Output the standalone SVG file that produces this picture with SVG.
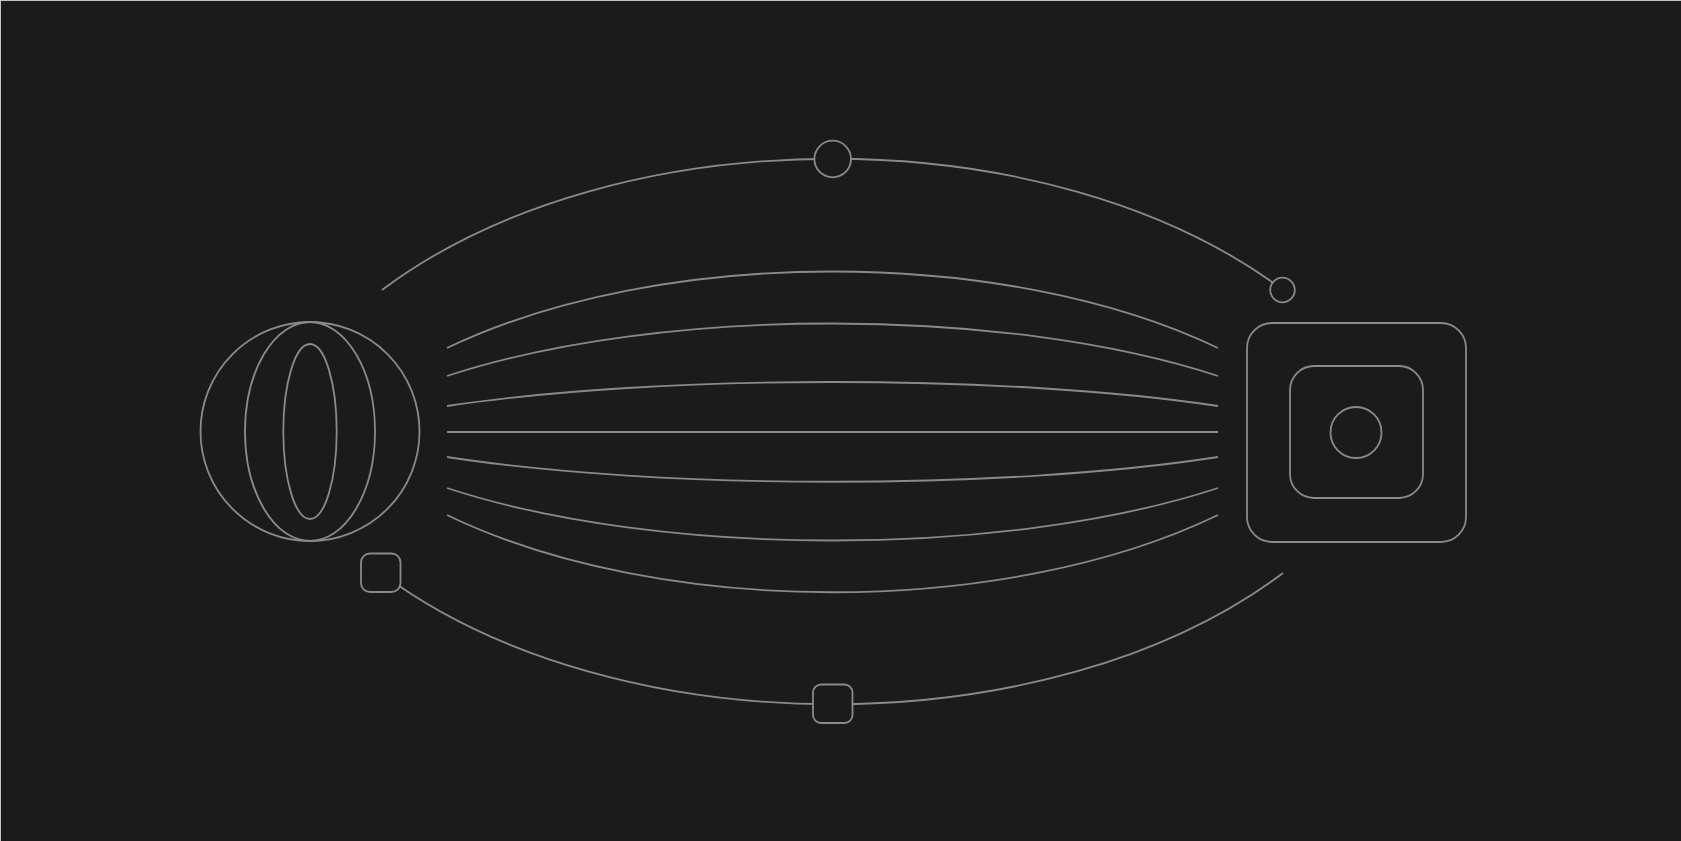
<svg xmlns="http://www.w3.org/2000/svg" width="1681" height="841" viewBox="0 0 1681 841">
<style>
.s{fill:none;stroke:#8a8a8a;stroke-width:1.8}
.n{fill:#1b1b1b;stroke:#8a8a8a;stroke-width:1.8}
</style>
<rect x="0" y="0" width="1681" height="841" fill="#c4c4c4"/>
<rect x="1" y="1" width="1680" height="840" fill="#1b1b1b"/>
<g id="connectors">
<path class="s" d="M382,290 C615,115 1050,115 1283,290"/>
<path class="s" d="M381,573 C615,748 1050,748 1283,573"/>
<path class="s" d="M447,348 C660,246 1005,246 1218,348"/>
<path class="s" d="M447,376 C660,306 1005,306 1218,376"/>
<path class="s" d="M447,406 C660,374 1005,374 1218,406"/>
<path class="s" d="M447,432 L1218,432"/>
<path class="s" d="M447,457 C660,490 1005,490 1218,457"/>
<path class="s" d="M447,488 C660,558 1005,558 1218,488"/>
<path class="s" d="M447,515 C660,618 1005,618 1218,515"/>
</g>
<g id="sphere">
<circle class="s" cx="310" cy="431.5" r="109.5"/>
<ellipse class="s" cx="310" cy="431.5" rx="65" ry="109.5"/>
<ellipse class="s" cx="310" cy="431.5" rx="26.7" ry="87.5"/>
</g>
<g id="box">
<rect class="s" x="1247" y="323" width="219" height="219" rx="25"/>
<rect class="s" x="1290" y="366" width="133" height="132" rx="24"/>
<circle class="s" cx="1356" cy="432.5" r="25.5"/>
</g>
<g id="top-node"><circle class="n" cx="832.7" cy="159" r="18.3"/></g>
<g id="right-node"><circle class="n" cx="1282.5" cy="290" r="12.3"/></g>
<g id="bottom-node"><rect class="n" x="813" y="684.5" width="39.5" height="38.5" rx="8"/></g>
<g id="left-node"><rect class="n" x="361" y="553.5" width="39.5" height="38.5" rx="9"/></g>
</svg>
